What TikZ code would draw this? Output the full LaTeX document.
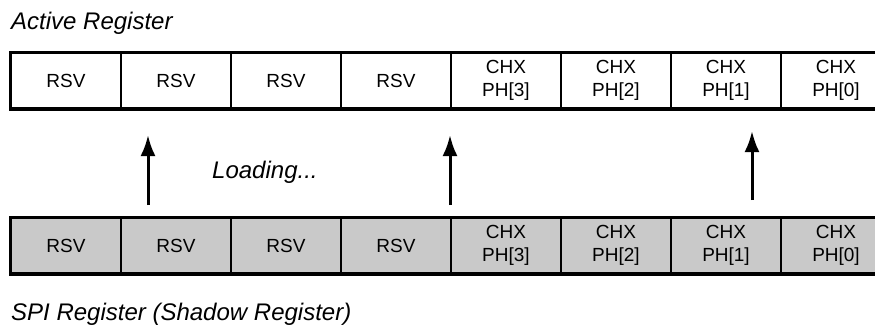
\documentclass[tikz,border=0pt]{standalone}
\usepackage{fontspec}
\setmainfont{Liberation Sans}
\usetikzlibrary{arrows.meta}

\begin{document}
\begin{tikzpicture}[
  x=1pt, y=-1pt,
  cell/.style={rectangle, draw, line width=2pt, minimum width=110pt, minimum height=55pt,
    inner sep=0pt, align=center, font=\fontsize{19}{22.5}\selectfont},
  spicell/.style={cell, fill=gray!42},
  title/.style={anchor=base west, inner sep=0pt, font=\fontsize{24}{28}\selectfont\itshape},
  load/.style={-{Latex[length=21pt,width=15pt]}, line width=3pt}
]
  \clip (0,0) rectangle (875,325);

  % Active register
  \node[title] (acttitle) at (11,29) {Active Register};
  \node[cell] (a7) at (66,80.5) {RSV};
  \node[cell] (a6) at (176,80.5) {RSV};
  \node[cell] (a5) at (286,80.5) {RSV};
  \node[cell] (a4) at (396,80.5) {RSV};
  \node[cell] (a3) at (506,80.5) {CHX\\PH[3]};
  \node[cell] (a2) at (616,80.5) {CHX\\PH[2]};
  \node[cell] (a1) at (726,80.5) {CHX\\PH[1]};
  \node[cell] (a0) at (836,80.5) {CHX\\PH[0]};
  \draw[line width=3pt] (a7.north west) rectangle (a0.south east);

  % SPI register (shadow)
  \node[spicell] (s7) at (66,245.5) {RSV};
  \node[spicell] (s6) at (176,245.5) {RSV};
  \node[spicell] (s5) at (286,245.5) {RSV};
  \node[spicell] (s4) at (396,245.5) {RSV};
  \node[spicell] (s3) at (506,245.5) {CHX\\PH[3]};
  \node[spicell] (s2) at (616,245.5) {CHX\\PH[2]};
  \node[spicell] (s1) at (726,245.5) {CHX\\PH[1]};
  \node[spicell] (s0) at (836,245.5) {CHX\\PH[0]};
  \draw[line width=3pt] (s7.north west) rectangle (s0.south east);
  \node[title] (spititle) at (11,320) {SPI Register (Shadow Register)};

  % Laden
  \coordinate (l1) at (148,205); \coordinate (u1) at (148,135);
  \coordinate (l2) at (450,205); \coordinate (u2) at (450,135);
  \coordinate (l3) at (752,200); \coordinate (u3) at (752,131);
  \draw[load] (l1) -- (u1);
  \draw[load] (l2) -- (u2);
  \draw[load] (l3) -- (u3);
  \node[title] (loading) at (212,178) {Loading...};
\end{tikzpicture}
\end{document}
